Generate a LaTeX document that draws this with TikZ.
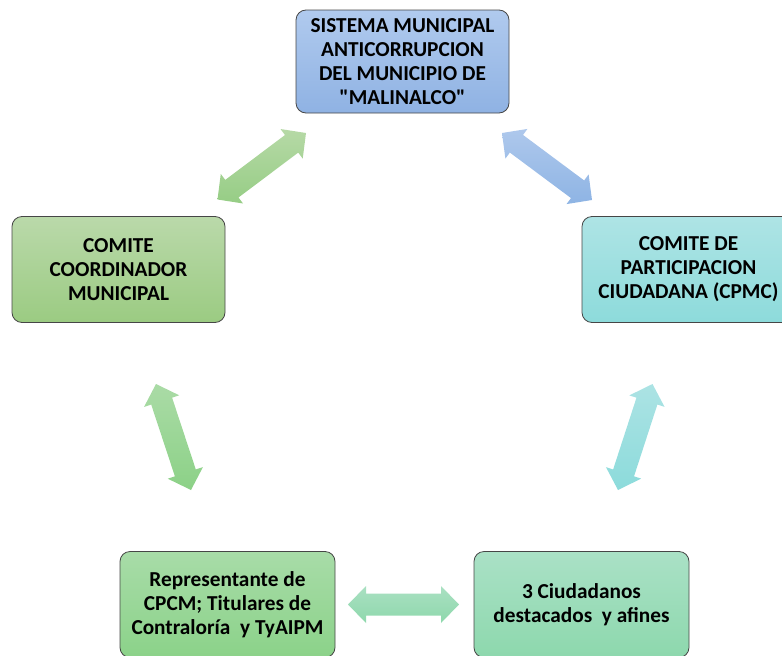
\documentclass[tikz,border=0pt]{standalone}
\usepackage{fontspec}
\setmainfont{Carlito}
\usetikzlibrary{calc}
\definecolor{smTop}{RGB}{176,202,238}
\definecolor{smBot}{RGB}{143,178,227}
\definecolor{ccTop}{RGB}{186,217,170}
\definecolor{ccBot}{RGB}{155,203,130}
\definecolor{cpTop}{RGB}{174,228,229}
\definecolor{cpBot}{RGB}{141,219,219}
\definecolor{rpTop}{RGB}{168,220,168}
\definecolor{rpBot}{RGB}{139,210,137}
\definecolor{ciTop}{RGB}{170,225,198}
\definecolor{ciBot}{RGB}{141,216,173}
\definecolor{boxline}{RGB}{70,70,70}
\tikzset{
  box/.style={rectangle, rounded corners=10pt, draw=boxline, line width=0.8pt,
    align=center, inner sep=0pt, minimum width=213pt, minimum height=106pt,
    font=\bfseries\fontsize{21.3}{24}\selectfont, text=black},
}
\newcommand\blockarrow[4]{%
  \coordinate (#1h1) at ($(#2)!18pt!(#3)$);
  \coordinate (#1h2) at ($(#3)!18pt!(#2)$);
  \path[#4] (#2) -- ($(#1h1)!18.5pt!90:(#3)$) -- ($(#1h1)!11pt!90:(#3)$)
    -- ($(#1h2)!11pt!-90:(#2)$) -- ($(#1h2)!18.5pt!-90:(#2)$) -- (#3)
    -- ($(#1h2)!18.5pt!90:(#2)$) -- ($(#1h2)!11pt!90:(#2)$)
    -- ($(#1h1)!11pt!-90:(#3)$) -- ($(#1h1)!18.5pt!-90:(#3)$) -- cycle;
}
\begin{document}
\begin{tikzpicture}[x=1pt,y=-1pt]
\useasboundingbox (0,0) rectangle (782,656);
% boxes
\node[box, top color=smTop, bottom color=smBot, minimum height=103pt] (sm) at (402.5,61.5)
  {SISTEMA MUNICIPAL\\ANTICORRUPCION\\DEL MUNICIPIO DE\\\textquotedbl MALINALCO\textquotedbl};
\node[box, top color=ccTop, bottom color=ccBot] (cc) at (118.5,269.5)
  {COMITE\\COORDINADOR\\MUNICIPAL};
\node[box, top color=cpTop, bottom color=cpBot] (cp) at (688.5,269.5)
  {COMITE DE\\PARTICIPACION\\CIUDADANA (CPMC)};
\node[box, top color=rpTop, bottom color=rpBot, minimum width=215pt] (rp) at (227.5,604.5)
  {Representante de\\CPCM; Titulares de\\Contraloría\ \ y TyAIPM};
\node[box, top color=ciTop, bottom color=ciBot, minimum width=215pt] (ci) at (581.5,604.5)
  {3 Ciudadanos\\destacados\ \ y afines};
% arrow end points
\coordinate (a1s) at (217.5,199.5);
\coordinate (a1e) at (306,133);
\coordinate (a2s) at (502,133);
\coordinate (a2e) at (592,200);
\coordinate (a3s) at (156,384);
\coordinate (a3e) at (191,490);
\coordinate (a4s) at (652.5,384);
\coordinate (a4e) at (618,490);
\coordinate (a5s) at (348,604.5);
\coordinate (a5e) at (459,604.5);
\blockarrow{a1}{a1s}{a1e}{top color={rgb,255:red,182;green,217;blue,166}, bottom color={rgb,255:red,150;green,205;blue,133}}
\blockarrow{a2}{a2s}{a2e}{top color={rgb,255:red,174;green,200;blue,236}, bottom color={rgb,255:red,142;green,180;blue,228}}
\blockarrow{a3}{a3s}{a3e}{top color={rgb,255:red,170;green,219;blue,166}, bottom color={rgb,255:red,140;green,209;blue,135}}
\blockarrow{a4}{a4s}{a4e}{top color={rgb,255:red,172;green,227;blue,228}, bottom color={rgb,255:red,140;green,219;blue,219}}
\blockarrow{a5}{a5s}{a5e}{top color={rgb,255:red,170;green,224;blue,194}, bottom color={rgb,255:red,142;green,216;blue,172}}
\end{tikzpicture}
\end{document}
